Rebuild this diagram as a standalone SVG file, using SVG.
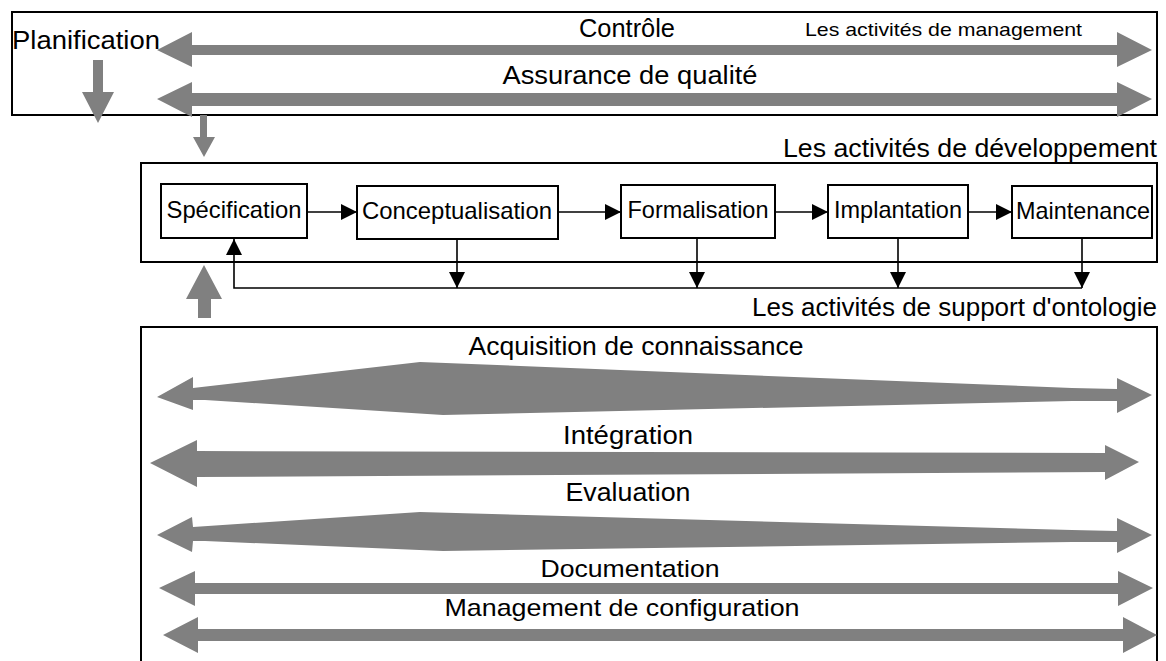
<svg xmlns="http://www.w3.org/2000/svg" width="1166" height="661" viewBox="0 0 1166 661">
  <defs>
    <style>
      .frame { fill: none; stroke: #000; stroke-width: 2; }
      .node { fill: #fff; stroke: #000; stroke-width: 2; }
      .big { fill: #808080; stroke: none; }
      .conn { fill: none; stroke: #000; stroke-width: 1.6; }
      .t { font-family: "Liberation Sans", Arial, sans-serif; fill: #000; }
      .lbl { font-size: 24px; text-anchor: middle; }
    </style>
    <marker id="ah" viewBox="0 0 16 16" refX="16" refY="8" markerWidth="16" markerHeight="16" markerUnits="userSpaceOnUse" orient="auto">
      <path d="M0,0 L16,8 L0,16 Z" fill="#000"/>
    </marker>
  </defs>
  <rect width="1166" height="661" fill="#fff"/>

  <!-- Management activities -->
  <g id="management">
    <rect class="frame" x="12" y="12" width="1145" height="103"/>
    <polygon class="big" points="157,50 192,32 192,45 1117,45 1117,32 1152,50 1117,67 1117,55 192,55 192,67"/>
    <polygon class="big" points="157,99 192,82 192,93 1117,93 1117,82 1152,99 1117,117 1117,106 192,106 192,117"/>
    <text class="t" x="627" y="37" font-size="25" text-anchor="middle" textLength="96" lengthAdjust="spacingAndGlyphs">Contrôle</text>
    <text class="t" x="805" y="36" font-size="19" textLength="277" lengthAdjust="spacingAndGlyphs">Les activités de management</text>
    <text class="t" x="630" y="84" font-size="25" text-anchor="middle" textLength="255" lengthAdjust="spacingAndGlyphs">Assurance de qualité</text>
  </g>

  <g id="planification">
    <text class="t" x="12" y="49" font-size="26" textLength="148" lengthAdjust="spacingAndGlyphs">Planification</text>
    <polygon class="big" points="93,60 103,60 103,92 114,92 98,123 82,92 93,92"/>
  </g>

  <!-- Development activities -->
  <g id="development">
    <rect class="frame" x="141" y="163" width="1016" height="99"/>
    <text class="t" x="1157" y="157" font-size="26" text-anchor="end" textLength="374" lengthAdjust="spacingAndGlyphs">Les activités de développement</text>
  </g>
  <g id="specification">
    <rect class="node" x="161" y="184" width="146" height="54"/>
    <text class="t lbl" x="234" y="218" textLength="135" lengthAdjust="spacingAndGlyphs">Spécification</text>
  </g>
  <g id="conceptualisation">
    <rect class="node" x="357" y="186" width="201" height="53"/>
    <text class="t lbl" x="457" y="219" textLength="190" lengthAdjust="spacingAndGlyphs">Conceptualisation</text>
  </g>
  <g id="formalisation">
    <rect class="node" x="621" y="185" width="154" height="53"/>
    <text class="t lbl" x="698" y="218" textLength="141" lengthAdjust="spacingAndGlyphs">Formalisation</text>
  </g>
  <g id="implantation">
    <rect class="node" x="828" y="185" width="140" height="53"/>
    <text class="t lbl" x="898" y="218" textLength="128" lengthAdjust="spacingAndGlyphs">Implantation</text>
  </g>
  <g id="maintenance">
    <rect class="node" x="1012" y="186" width="140" height="52"/>
    <text class="t lbl" x="1083" y="219" textLength="134" lengthAdjust="spacingAndGlyphs">Maintenance</text>
  </g>

  <!-- Support activities -->
  <g id="support">
    <rect class="frame" x="141" y="327" width="1016" height="345"/>
    <text class="t" x="1157" y="316" font-size="26" text-anchor="end" textLength="405" lengthAdjust="spacingAndGlyphs">Les activités de support d'ontologie</text>
    <polygon class="big" points="157,397 193,377 193,388 420,362 1072,388 1117,389 1117,378 1152,395 1117,413 1117,401 1072,401 443,415 205,400 193,400 193,410"/>
    <text class="t" x="636" y="355" font-size="25" text-anchor="middle" textLength="335" lengthAdjust="spacingAndGlyphs">Acquisition de connaissance</text>
    <polygon class="big" points="150,463 197,440 197,451 1105,453 1105,445 1139,462 1105,480 1105,472 197,477 197,487"/>
    <text class="t" x="628" y="444" font-size="25" text-anchor="middle" textLength="130" lengthAdjust="spacingAndGlyphs">Intégration</text>
    <polygon class="big" points="157,535 192,517 193,527 420,512 1072,530 1117,531 1117,518 1152,535 1117,553 1117,542 1072,542 443,551 205,541 193,541 192,552"/>
    <text class="t" x="628" y="501" font-size="25" text-anchor="middle" textLength="125" lengthAdjust="spacingAndGlyphs">Evaluation</text>
    <polygon class="big" points="159,588 195,571 195,583 1118,583 1118,571 1153,588 1118,606 1118,594 195,594 195,606"/>
    <text class="t" x="630" y="577" font-size="24" text-anchor="middle" textLength="179" lengthAdjust="spacingAndGlyphs">Documentation</text>
    <polygon class="big" points="163,635 198,617 198,629 1123,629 1123,617 1157,635 1123,653 1123,641 198,641 198,653"/>
    <text class="t" x="622" y="616" font-size="24" text-anchor="middle" textLength="355" lengthAdjust="spacingAndGlyphs">Management de configuration</text>
  </g>

  <!-- Connectors -->
  <g id="connectors">
    <polygon class="big" points="200,115 207,115 207,137 215,137 204,157 193,137 200,137"/>
    <polygon class="big" points="198,318 211,318 211,299 222,299 204,265 186,299 198,299"/>
    <line class="conn" x1="307" y1="212" x2="357" y2="212" marker-end="url(#ah)"/>
    <line class="conn" x1="558" y1="212" x2="621" y2="212" marker-end="url(#ah)"/>
    <line class="conn" x1="775" y1="212" x2="828" y2="212" marker-end="url(#ah)"/>
    <line class="conn" x1="968" y1="212" x2="1012" y2="212" marker-end="url(#ah)"/>
    <line class="conn" x1="457" y1="239" x2="457" y2="288" marker-end="url(#ah)"/>
    <line class="conn" x1="697" y1="238" x2="697" y2="288" marker-end="url(#ah)"/>
    <line class="conn" x1="898" y1="238" x2="898" y2="288" marker-end="url(#ah)"/>
    <line class="conn" x1="1082" y1="238" x2="1082" y2="288" marker-end="url(#ah)"/>
    <polyline class="conn" points="1082,288 234,288 234,239" marker-end="url(#ah)"/>
  </g>
</svg>
